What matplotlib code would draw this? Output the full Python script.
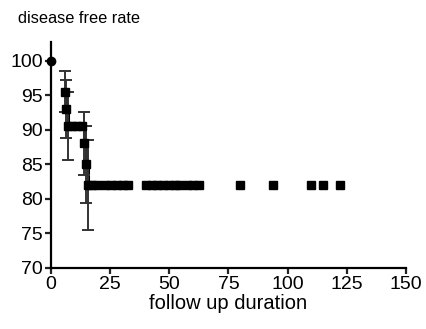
import matplotlib
matplotlib.use("Agg")
import matplotlib.pyplot as plt

plt.rcParams['font.family'] = ['Liberation Sans', 'DejaVu Sans']

# data
start_t = [0]
start_y = [100]

event_t = [6.0, 6.5, 7.0, 14.0, 14.8, 15.8]
event_y = [95.5, 93.0, 90.5, 88.0, 85.0, 82.0]
event_err = [3.0, 4.2, 4.9, 4.6, 5.6, 6.5]

cens90_t = [9, 11, 13]
cens90_y = [90.5, 90.5, 90.5]

cens82_t = [17.5, 19.5, 23, 25.5, 28, 30.5, 32.5, 40, 42.5, 45, 47.5, 50, 52.5, 54,
            57.5, 60, 62.5, 80, 94, 110, 115, 122]
cens82_y = [82.0] * len(cens82_t)

xticks = [0, 25, 50, 75, 100, 125, 150]
yticks = [70, 75, 80, 85, 90, 95, 100]

fig = plt.figure(figsize=(4.26, 3.29), dpi=100)
ax = fig.add_axes([0.1197, 0.1863, 0.8333, 0.686])

# step curve after first event
line_t = event_t + [20]
line_y = event_y + [82.0]
ax.plot(line_t, line_y, drawstyle='steps-post', color='black', lw=2.2, zorder=3)

ms = 5.6
ax.errorbar(event_t, event_y, yerr=event_err, fmt='s', color='black', ms=ms,
            ecolor='#333333', elinewidth=1.4, capsize=4, capthick=1.4, zorder=4)
ax.plot(cens90_t, cens90_y, 's', color='black', ms=ms, zorder=4)
ax.plot(cens82_t, cens82_y, 's', color='black', ms=ms, zorder=4)
ax.plot(start_t, start_y, 'o', color='black', ms=6, clip_on=False, zorder=5)

ax.set_xlim(0, 150)
ax.set_ylim(70, 102.7)
ax.set_xticks(xticks)
ax.set_yticks(yticks)

for s in ['top', 'right']:
    ax.spines[s].set_visible(False)
for s in ['left', 'bottom']:
    ax.spines[s].set_linewidth(1.6)

ax.tick_params(axis='both', width=1.6, length=4, labelsize=14, pad=2, color='#222222')

ax.set_xlabel('follow up duration', fontsize=14.5, labelpad=1)
fig.text(0.042, 0.945, 'disease free rate', fontsize=11.8, ha='left', va='center')

fig.savefig('out.png', dpi=100)
